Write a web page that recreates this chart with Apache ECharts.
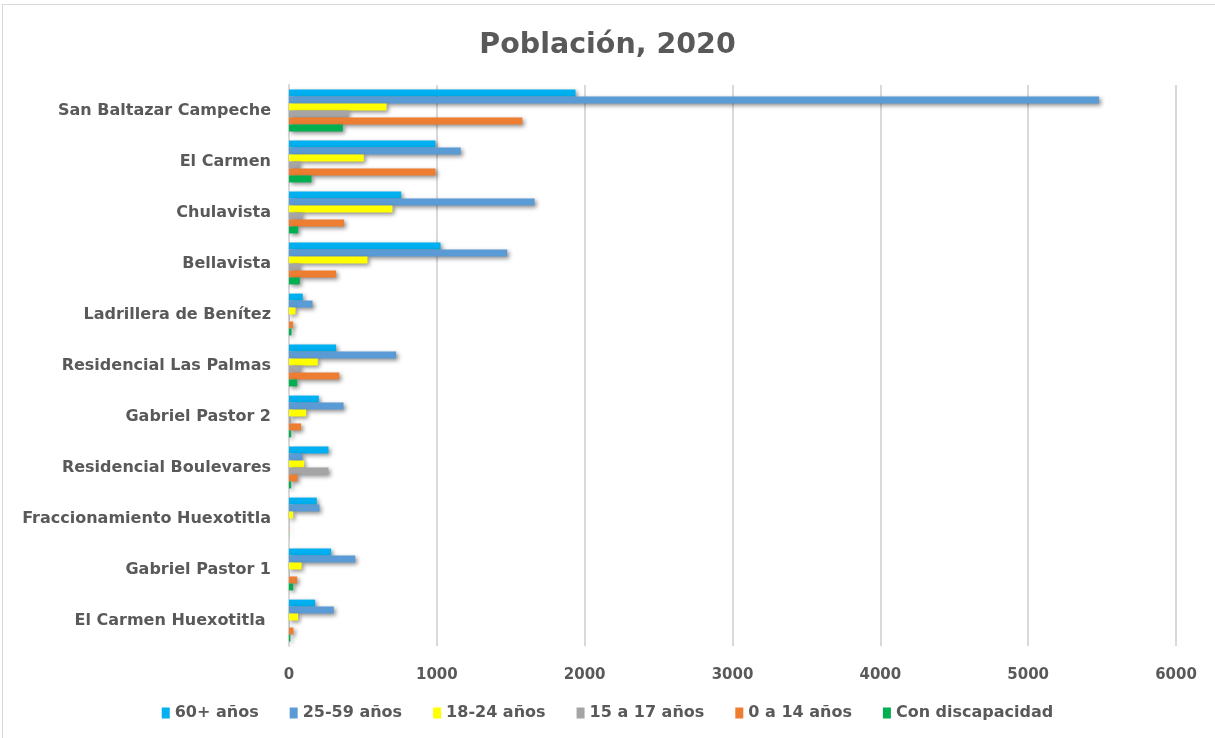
<!DOCTYPE html>
<html>
<head>
<meta charset="utf-8">
<script src="https://cdn.jsdelivr.net/npm/echarts@6/dist/echarts.min.js"></script>
<style>
html,body{margin:0;padding:0;background:#fff;}
#frame{position:absolute;left:2px;top:4px;width:1220px;height:740px;border:1px solid #d9d9d9;box-sizing:border-box;}
#chart{position:absolute;left:0;top:0;width:1215px;height:738px;}
</style>
</head>
<body>
<div id="frame"></div>
<div id="chart"></div>
<script>
const categories = ['San Baltazar Campeche','El Carmen','Chulavista','Bellavista','Ladrillera de Benítez','Residencial Las Palmas','Gabriel Pastor 2','Residencial Boulevares','Fraccionamiento Huexotitla','Gabriel Pastor 1','El Carmen Huexotitla '];
const seriesNames = ['60+ años','25-59 años','18-24 años','15 a 17 años','0 a 14 años','Con discapacidad'];
const v60 = [1938, 991, 759, 1025, 93, 319, 202, 267, 188, 285, 177];
const v25 = [5480, 1162, 1661, 1476, 159, 725, 369, 91, 206, 448, 303];
const v18 = [660, 506, 700, 531, 44, 195, 116, 103, 28, 85, 62];
const v15 = [400, 71, 89, 73, 4, 78, 15, 267, 2, 4, 3];
const v0 = [1578, 991, 373, 319, 28, 340, 82, 58, 2, 55, 30];
const vDisc = [364, 152, 62, 73, 17, 55, 15, 15, 1, 28, 10];
const xTicks = [0, 1000, 2000, 3000, 4000, 5000, 6000];

const colors = ['#00B0F0','#5B9BD5','#FFFF00','#A5A5A5','#ED7D31','#00B050'];
const allValues = [v60, v25, v18, v15, v0, vDisc];
const FONT = 'DejaVu Sans';

const chart = echarts.init(document.getElementById('chart'), null, {renderer:'canvas'});
chart.setOption({
  animation:false,
  backgroundColor:'transparent',
  color: colors,
  title:{
    text:'Población, 2020', left:'center', top:26,
    textStyle:{fontFamily:FONT, fontWeight:'bold', fontSize:28.5, color:'#595959'}
  },
  legend:{
    bottom:12, left:'center', itemWidth:8, itemHeight:11, itemGap:31, icon:'rect',
    textStyle:{fontFamily:FONT, fontWeight:'bold', fontSize:16, color:'#595959'},
    data: seriesNames
  },
  grid:{left:289, right:39, top:85, bottom:92, containLabel:false},
  xAxis:{
    type:'value', min:xTicks[0], max:xTicks[xTicks.length-1], interval:1000,
    axisLine:{show:false}, axisTick:{show:false},
    splitLine:{show:true, lineStyle:{color:'#d9d9d9', width:2}},
    axisLabel:{margin:22, formatter: v => String(v), fontFamily:FONT, fontWeight:'bold', fontSize:15, color:'#595959'}
  },
  yAxis:{
    type:'category', inverse:true, data:categories,
    axisLine:{show:true, lineStyle:{color:'#d9d9d9', width:2}},
    axisTick:{show:false},
    axisLabel:{margin:18, fontFamily:FONT, fontWeight:'bold', fontSize:16, color:'#595959'}
  },
  series: seriesNames.map((n,i)=>({
    name:n, type:'bar', data: allValues[i],
    barGap:'0%', barCategoryGap:'18%',
    itemStyle:{color:colors[i], shadowColor:'rgba(0,0,0,0.45)', shadowBlur:4, shadowOffsetX:2, shadowOffsetY:2}
  }))
});
</script>
</body>
</html>
